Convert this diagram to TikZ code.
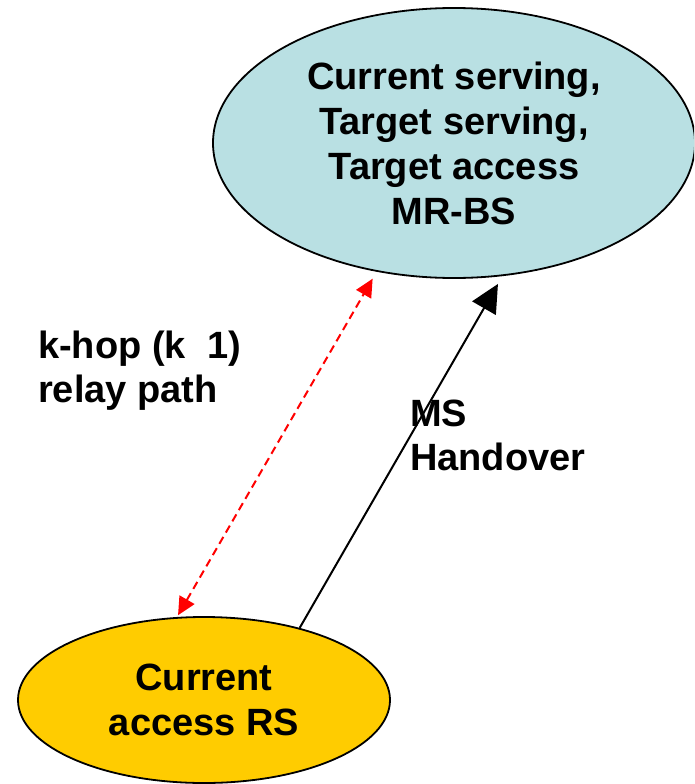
\documentclass[tikz,border=0pt]{standalone}
\usepackage{fontspec}
\setmainfont{Liberation Sans}
\usepackage{xcolor}
\usetikzlibrary{arrows.meta}
\usetikzlibrary{shapes.geometric}
\definecolor{bsblue}{RGB}{185,224,227}
\definecolor{rsgold}{RGB}{255,204,0}
\tikzset{station/.style={ellipse, draw=black, line width=1.8pt, inner sep=0pt, align=center, font=\fontsize{38}{45}\selectfont\bfseries}}
\tikzset{lbl/.style={anchor=north west, inner sep=0pt, align=left, font=\fontsize{38}{44}\selectfont\bfseries}}

\begin{document}
\begin{tikzpicture}[x=1pt, y=-1pt]
\clip (0, 0) rectangle (694, 784);
\node[station, fill=bsblue, minimum width=482pt, minimum height=270pt] (mrbs) at (454, 143) {Current serving,\\Target serving,\\Target access\\MR-BS};
\node[station, fill=rsgold, minimum width=372pt, minimum height=166pt] (accrs) at (204, 700) {Current\\access RS};
\draw[red, line width=2pt, dash pattern=on 8pt off 5pt, {Triangle[length=18pt, width=17pt]}-{Triangle[length=18pt, width=17pt]}, shorten <=2pt, shorten >=8pt] (accrs.108) -- (mrbs.239);
\draw[black, line width=2pt, -{Triangle[length=28pt, width=27pt]}, shorten >=9pt] (accrs.37) -- (mrbs.290);
\node[lbl] (khop) at (38, 331) {k-hop (k\ \ 1)\\relay path};
\node[lbl] (msho) at (410, 400) {MS\\Handover};
\end{tikzpicture}
\end{document}
